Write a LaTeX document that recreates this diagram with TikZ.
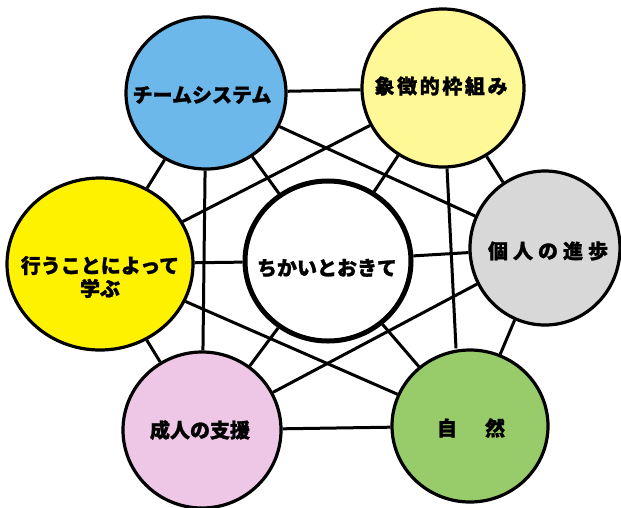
\documentclass[tikz,border=0pt]{standalone}
\usepackage{fontspec}
\newfontfamily\jp{Noto Sans CJK JP Black}[FakeBold=1.3]
\usetikzlibrary{shapes.geometric}
\definecolor{cblue}{RGB}{108,184,234}
\definecolor{clyellow}{RGB}{255,248,150}
\definecolor{cgrey}{RGB}{216,216,216}
\definecolor{cyellow}{RGB}{255,242,0}
\definecolor{cpink}{RGB}{238,198,230}
\definecolor{cgreen}{RGB}{152,204,106}
\begin{document}
\begin{tikzpicture}[x=1pt,y=-1pt,
  bub/.style={ellipse, draw=black, line width=3.2pt, inner sep=0pt},
  lbl/.style={font=\jp\fontsize{20}{23}\selectfont, align=center, inner sep=0pt},
  link/.style={line width=3pt}]
\useasboundingbox (0,0) rectangle (621,507);
\fill[white] (0,0) rectangle (621,507);
% circles
\node[bub, fill=cblue,    minimum width=160pt, minimum height=152pt] (T) at (206,93) {};
\node[bub, fill=clyellow, minimum width=162pt, minimum height=158pt] (S) at (443,88) {};
\node[bub, fill=cgrey,    minimum width=150pt, minimum height=154pt] (P) at (545,248) {};
\node[bub, fill=cyellow,  minimum width=186pt, minimum height=172pt] (L) at (100,264) {};
\node[bub, fill=white, line width=5pt, minimum width=166pt, minimum height=160pt] (C) at (328,261) {};
\node[bub, fill=cpink,    minimum width=158pt, minimum height=156pt] (A) at (202,430) {};
\node[bub, fill=cgreen,   minimum width=156pt, minimum height=152pt] (N) at (470,426) {};
\coordinate (Nn) at (456,426);
% connectors
\foreach \a/\b in {T/S,S/P,P/N,N/A,A/L,L/T,T/P,P/A,N/L,A/T,L/S,C/T,C/S,C/P,C/N,C/A,C/L}
  \draw[link] (\a) -- (\b);
\draw[link] (S) -- (Nn |- N.north);
% labels
\node[lbl] (Tt) at (202,95) {チームシステム};
\node[lbl] (St) at (441,86) {象\kern2.6pt 徴\kern2.6pt 的\kern2.6pt 枠\kern2.6pt 組\kern2.6pt み};
\node[lbl] (Pt) at (548,251) {個\kern5pt 人\kern5pt の\kern5pt 進\kern5pt 歩};
\node[lbl] (Lt) at (100,277) {行うことによって\\学ぶ};
\node[lbl] (Ct) at (327,268) {ちかいとおきて};
\node[lbl] (At) at (200,430) {成人の支援};
\node[lbl] (Nt) at (471,428) {自\hspace{28pt}然};
\end{tikzpicture}
\end{document}
